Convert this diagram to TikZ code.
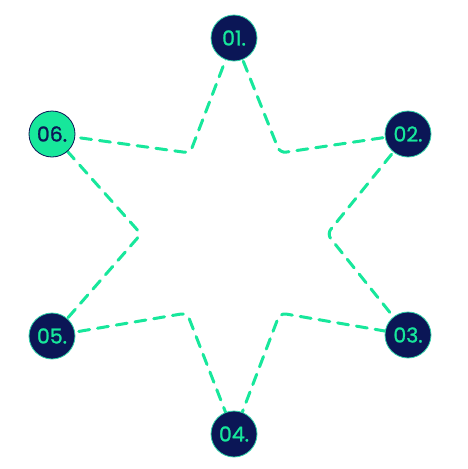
\documentclass[tikz,border=0pt]{standalone}
\usepackage{fontspec}
\newfontfamily\badgefont{Poppins}[FakeBold=1.2]
\definecolor{navy}{HTML}{0B1656}
\definecolor{mint}{HTML}{17E79B}
\definecolor{rim}{HTML}{2ED3A8}
\begin{document}
\begin{tikzpicture}[x=1pt,y=-1pt,
  badge/.style={circle,minimum size=46pt,inner sep=0pt,fill=navy,draw=rim,line width=0.8pt,text=mint,font=\badgefont\fontsize{20.5}{20.5}\selectfont},
  hibadge/.style={badge,fill=mint,draw=navy,text=navy},
  starline/.style={draw=mint,line width=3pt,dash pattern=on 11pt off 8pt,line cap=round,rounded corners=6pt}]
\useasboundingbox (0,0) rectangle (468,469);
\coordinate (i1) at (280,153);
\coordinate (i2) at (327,234);
\coordinate (i3) at (280,313);
\coordinate (i4) at (187,313);
\coordinate (i5) at (141,234);
\coordinate (i6) at (190,153);
\coordinate (c1) at (234,38);
\coordinate (c2) at (408,134);
\coordinate (c3) at (408,335);
\coordinate (c4) at (234,434);
\coordinate (c5) at (52,336);
\coordinate (c6) at (52,134);
\draw[starline] (c1) -- (i1) -- (c2) -- (i2) -- (c3) -- (i3) -- (c4) -- (i4) -- (c5) -- (i5) -- (c6) -- (i6) -- cycle;
\node[badge] (n1) at (c1) {01.};
\node[badge] (n2) at (c2) {02.};
\node[badge] (n3) at (c3) {03.};
\node[badge] (n4) at (c4) {04.};
\node[badge] (n5) at (c5) {05.};
\node[hibadge] (n6) at (c6) {06.};
\end{tikzpicture}
\end{document}
